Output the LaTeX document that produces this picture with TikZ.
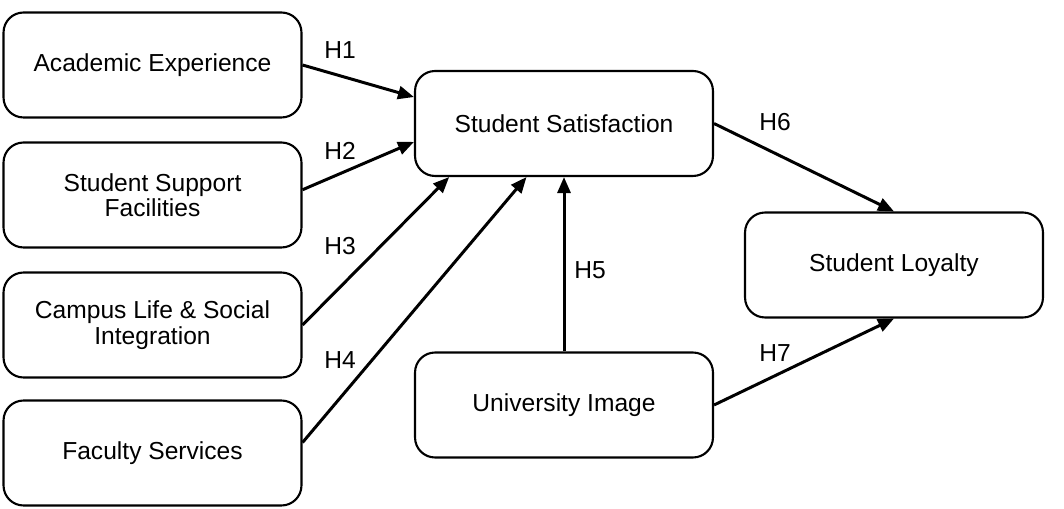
\documentclass[tikz,border=0pt]{standalone}
\usepackage{fontspec}
\setmainfont{Liberation Sans}
\usetikzlibrary{arrows.meta}
\tikzset{
  box/.style={draw, line width=1.2pt, rounded corners=0.4cm, minimum width=5.96cm,
    minimum height=2.1cm, align=center, font=\fontsize{14}{14.5}\selectfont},
  hyp/.style={font=\fontsize{14}{16}\selectfont}
}
\begin{document}
\begin{tikzpicture}[x=0.02cm, y=-0.02cm, >={Triangle[length=0.32cm, width=0.26cm]},
    line width=1.7pt]
    \useasboundingbox (0,0) rectangle (1064,509);
    \node[box] (AE) at (152.5,65) {Academic Experience};
    \node[box] (SSF) at (152.5,195) {Student Support\\Facilities};
    \node[box] (CL) at (152.5,325) {Campus Life \& Social\\Integration};
    \node[box] (FS) at (152.5,453) {Faculty Services};
    \node[box] (SS) at (564,123.5) {Student Satisfaction};
    \node[box] (UI) at (564,405) {University Image};
    \node[box] (SL) at (894,265) {Student Loyalty};
    \draw[->] (AE.east) -- (SS.170);
    \draw[->] (SSF.2) -- (SS.187);
    \draw[->] (CL.east) -- (SS.205);
    \draw[->] (FS.4) -- (SS.235);
    \draw[->] (UI.north) -- (SS.south);
    \draw[->] (SS.east) -- (SL.north);
    \draw[->] (UI.east) -- (SL.south);
    \node[hyp] (H1) at (340,50) {H1};
    \node[hyp] (H2) at (340,151) {H2};
    \node[hyp] (H3) at (340,246) {H3};
    \node[hyp] (H4) at (340,360) {H4};
    \node[hyp] (H5) at (590,270) {H5};
    \node[hyp] (H6) at (775,122) {H6};
    \node[hyp] (H7) at (775,353) {H7};
\end{tikzpicture}
\end{document}
